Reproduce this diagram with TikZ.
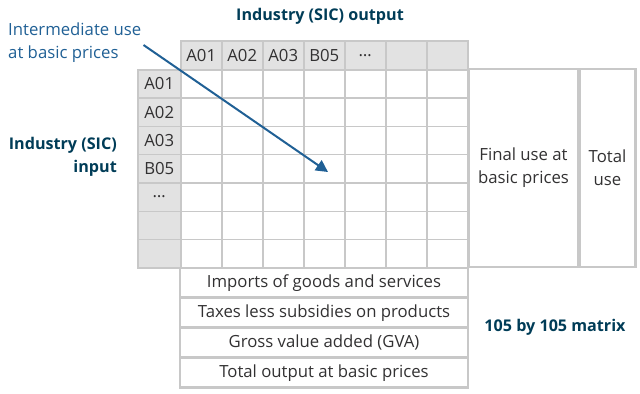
\documentclass[tikz,border=0pt]{standalone}
\usepackage{fontspec}
\setmainfont{Open Sans}
\usetikzlibrary{arrows.meta, positioning}
\definecolor{onsnavy}{HTML}{003C57}
\definecolor{onsblue}{HTML}{206095}
\definecolor{cellline}{HTML}{C8C8C8}
\definecolor{cellfill}{HTML}{E2E2E2}
\definecolor{celltext}{HTML}{323132}

\begin{document}
\begin{tikzpicture}[
x=1bp, y=-1bp,
font=\fontsize{16.8}{23}\selectfont,
     cell/.style = {draw=cellline, line width=1.5bp, inner sep=0pt,
                    minimum width=41bp, minimum height=28.3bp,
                    text=celltext, anchor=north west},
     head/.style = {cell, fill=cellfill},
    block/.style = {draw=cellline, line width=2.2bp, inner sep=0pt, outer sep=0pt,
                    align=center, text=celltext, anchor=north west},
    title/.style = {text=onsnavy, inner sep=0pt, font=\fontsize{16.2}{22.5}\selectfont\bfseries},
    arrow/.style = {-{Triangle[length=12bp, width=12bp]}, line width=2bp, draw=onsblue}
                    ]
\useasboundingbox (0,0) rectangle (640,393);
 % header row and column
\foreach \lab [count=\j] in {A01,A02,A03,B05,…,{},{}}
  \node (h-\j) [head, minimum height=29bp] at (180+41*\j-41,40) {\lab};
\foreach \lab [count=\i] in {A01,A02,A03,B05,…,{},{}}
  \node (r-\i) [head, minimum width=43bp] at (137,69+28.3*\i-28.3) {\lab};
 % intermediate use grid
\foreach \i in {1,...,7}
  \foreach \j in {1,...,7}
    \node (c-\i-\j) [cell] at (180+41*\j-41,69+28.3*\i-28.3) {};
 % final use and total use
\node (final) [block, minimum width=109bp, minimum height=198bp] at (469,69) {Final use at\\basic prices};
\node (total) [block, minimum width=56bp, minimum height=198bp, right=1.5bp of final.north east, anchor=north west] {Total\\use};
 % rows below the grid
\node (imports) [block, minimum width=288bp, minimum height=29.5bp] at (180,268) {Imports of goods and services};
\node (taxes)   [block, minimum width=288bp, minimum height=29.5bp, below=0.5bp of imports.south west, anchor=north west] {Taxes less subsidies on products};
\node (gva)     [block, minimum width=288bp, minimum height=29.5bp, below=0.5bp of taxes.south west, anchor=north west] {Gross value added (GVA)};
\node (output)  [block, minimum width=288bp, minimum height=29.5bp, below=0.5bp of gva.south west, anchor=north west] {Total output at basic prices};
 % labels
\node (outlabel) [title] at (320,16) {Industry (SIC) output};
\node (inlabel)  [title, align=right, anchor=east] at (117,157) {Industry (SIC)\\input};
\node (size)     [title] at (555,327) {105 by 105 matrix};
\node (intlabel) [text=onsblue, inner sep=0pt, align=left, anchor=west] at (8,43) {Intermediate use\\at basic prices};
\coordinate (arrowend) at (328,172);
\draw[arrow] (intlabel.east) ++(2,2) -- (arrowend);
\end{tikzpicture}
\end{document}
